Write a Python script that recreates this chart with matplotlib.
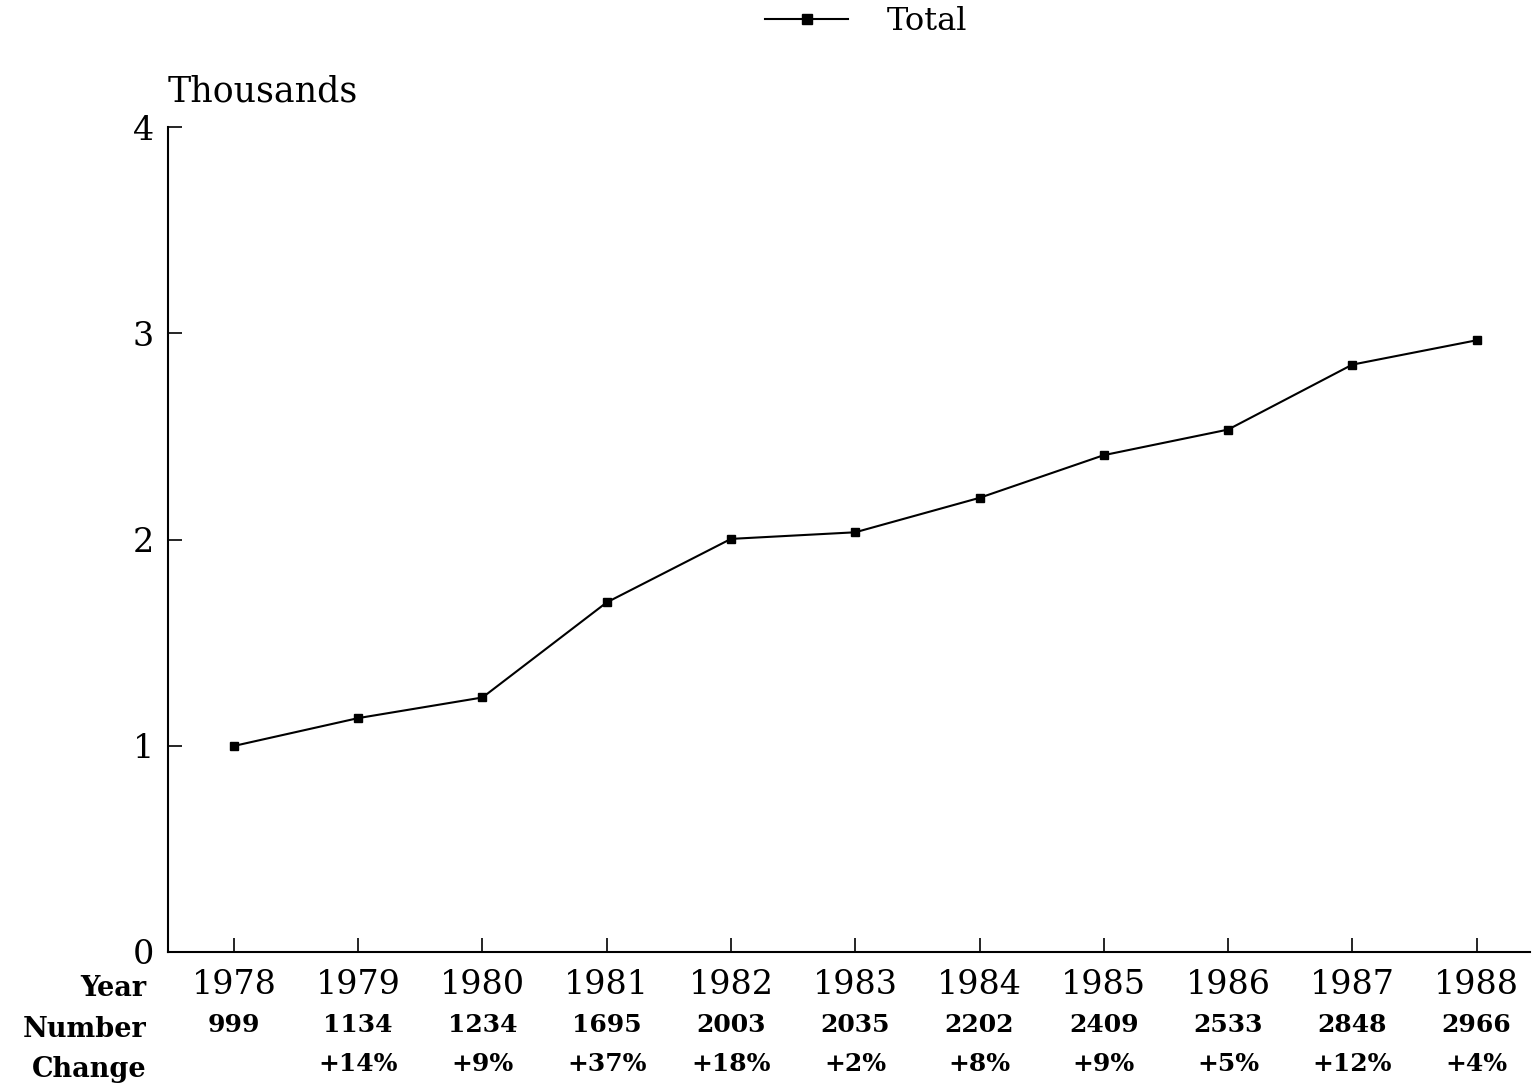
import matplotlib
matplotlib.use("Agg")
from matplotlib import pyplot as plt

# data
years = [1978, 1979, 1980, 1981, 1982, 1983, 1984, 1985, 1986, 1987, 1988]
totals = [999, 1134, 1234, 1695, 2003, 2035, 2202, 2409, 2533, 2848, 2966]
changes = ["", "+14%", "+9%", "+37%", "+18%", "+2%", "+8%", "+9%", "+5%", "+12%", "+4%"]
yticks = [0, 1, 2, 3, 4]

plt.rcParams['font.family'] = ['DejaVu Serif']

fig = plt.figure(figsize=(15.32, 10.84), dpi=100)
ax = fig.add_axes([0.1097, 0.1218, 0.889, 0.761])

thousands = [v / 1000 for v in totals]
line, = ax.plot(years, thousands, color='black', lw=1.5, marker='s', ms=5.5,
                label='Total')

ax.set_xlim(1977.47, 1988.43)
ax.set_ylim(0, 4)
ax.set_yticks(yticks)
ax.set_yticklabels([str(t) for t in yticks], fontsize=24)
ax.set_xticks(years)
ax.set_xticklabels([])
ax.tick_params(axis='both', direction='in', length=10, width=1.2, color='black')
ax.tick_params(axis='y', pad=10)
for s in ['top', 'right']:
    ax.spines[s].set_visible(False)
for s in ['left', 'bottom']:
    ax.spines[s].set_linewidth(1.5)

ax.text(0, 1.022, 'Thousands', transform=ax.transAxes, fontsize=25,
        ha='left', va='bottom')

# table under the axis: year, number, change
trans = ax.get_xaxis_transform()
for yr, n, ch in zip(years, totals, changes):
    ax.text(yr, -0.04, str(yr), transform=trans, fontsize=24, ha='center', va='center')
    ax.text(yr, -0.089, str(n), transform=trans, fontsize=18, fontweight='bold',
            ha='center', va='center')
    if ch:
        ax.text(yr, -0.136, ch, transform=trans, fontsize=18, fontweight='bold',
                ha='center', va='center')

for lab, yy in [('Year', -0.044), ('Number', -0.094), ('Change', -0.143)]:
    ax.text(-0.016, yy, lab, transform=ax.transAxes, fontsize=19.5, fontweight='bold',
            ha='right', va='center')

fig.legend(handles=[line], loc='upper left', bbox_to_anchor=(0.487, 1.012),
           frameon=False, fontsize=23, handlelength=2.6, handletextpad=1.2,
           borderaxespad=0.2, markerscale=1.3)

fig.savefig('out.png', dpi=100, facecolor='white')
